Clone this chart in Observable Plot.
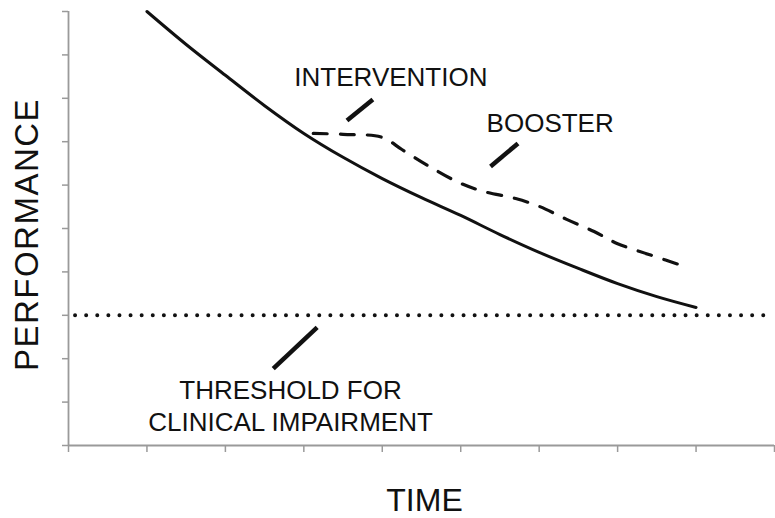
<!DOCTYPE html>
<html>
<head>
<meta charset="utf-8">
<script src="https://cdn.jsdelivr.net/npm/d3@7"></script>
<script src="https://cdn.jsdelivr.net/npm/@observablehq/plot@0.6"></script>
<style>
  html, body { margin: 0; padding: 0; background: #fff; }
  #chart svg { display: block; }
</style>
</head>
<body>
<div id="chart"></div>
<script>
// Baseline course (solid)
const baseTime = [1, 1.5, 2, 2.5, 3, 3.5, 4, 4.5, 5, 5.5, 6, 6.5, 7, 7.5, 8];
const basePerf = [10.0, 9.24, 8.53, 7.83, 7.19, 6.64, 6.15, 5.71, 5.30, 4.86, 4.45, 4.08, 3.73, 3.43, 3.18];

// Course with intervention and booster (dashed)
const interTime = [3.12, 3.5, 4.0, 4.25, 4.6, 5.0, 5.3, 5.7, 6.0, 6.35, 6.7, 7.0, 7.4, 7.9];
const interPerf = [7.19, 7.17, 7.10, 6.82, 6.43, 6.04, 5.85, 5.69, 5.51, 5.21, 4.93, 4.65, 4.40, 4.10];

// Threshold for clinical impairment
const threshold = 3;

// Tick positions (no labels)
const xTicks = [0, 1, 2, 3, 4, 5, 6, 7, 8, 9];
const yTicks = [0, 1, 2, 3, 4, 5, 6, 7, 8, 9, 10];

// Annotations (data units)
const labelText = ["INTERVENTION", "BOOSTER", "THRESHOLD FOR", "CLINICAL IMPAIRMENT"];
const labelX = [4.11, 6.14, 2.83, 2.83];
const labelY = [8.48, 7.42, 1.27, 0.53];

const leaderX1 = [3.55, 5.38, 2.61];
const leaderY1 = [7.49, 6.43, 1.77];
const leaderX2 = [3.88, 5.73, 3.17];
const leaderY2 = [7.97, 6.96, 2.72];

const axisTitles = { x: "TIME", y: "PERFORMANCE" };

const base = baseTime.map((t, i) => ({ t, p: basePerf[i] }));
const inter = interTime.map((t, i) => ({ t, p: interPerf[i] }));
const labels = labelText.map((s, i) => ({ s, x: labelX[i], y: labelY[i] }));
const leaders = leaderX1.map((x1, i) => ({ x1, y1: leaderY1[i], x2: leaderX2[i], y2: leaderY2[i] }));

const axisColor = "#9a9a9a";
const ink = "#111";
const font = "'Liberation Sans', Arial, sans-serif";

const chart = Plot.plot({
  width: 775,
  height: 518,
  marginLeft: 68,
  marginRight: 1,
  marginTop: 11,
  marginBottom: 73,
  style: { fontFamily: font, background: "#fff" },
  x: { domain: [0, 9] },
  y: { domain: [0, 10] },
  marks: [
    Plot.axisX({ ticks: xTicks, tickFormat: () => "", tickSize: 7, stroke: axisColor, strokeWidth: 1.5, label: null }),
    Plot.axisY({ ticks: yTicks, tickFormat: () => "", tickSize: 6, stroke: axisColor, strokeWidth: 1.5, label: null }),
    Plot.ruleY([0], { stroke: axisColor, strokeWidth: 1.8 }),
    Plot.ruleX([0], { stroke: axisColor, strokeWidth: 1.8 }),
    Plot.ruleY([threshold], { x1: 0.09, x2: 9, stroke: ink, strokeWidth: 4, strokeDasharray: "0 11.1", strokeLinecap: "round" }),
    Plot.line(base, { x: "t", y: "p", stroke: ink, strokeWidth: 3, curve: "catmull-rom" }),
    Plot.line(inter, { x: "t", y: "p", stroke: ink, strokeWidth: 3.2, curve: "catmull-rom", strokeDasharray: "14 13" }),
    Plot.link(leaders, { x1: "x1", y1: "y1", x2: "x2", y2: "y2", stroke: ink, strokeWidth: 4.5 }),
    Plot.text(labels, { x: "x", y: "y", text: "s", fontSize: 26, fill: ink, textAnchor: "middle" }),
    Plot.text([axisTitles.x], { frameAnchor: "bottom", textAnchor: "middle", lineAnchor: "middle", dx: 3, dy: 55, fontSize: 32, fill: ink }),
    Plot.text([axisTitles.y], { frameAnchor: "left", textAnchor: "middle", lineAnchor: "middle", dx: -41, dy: 6, rotate: -90, fontSize: 33, fill: ink })
  ]
});

// widen the vertical axis title a little, as in the reference
d3.select(chart).selectAll("text")
  .filter(function () { return this.textContent === axisTitles.y; })
  .style("letter-spacing", "1.5px");

document.getElementById("chart").appendChild(chart);
</script>
</body>
</html>
